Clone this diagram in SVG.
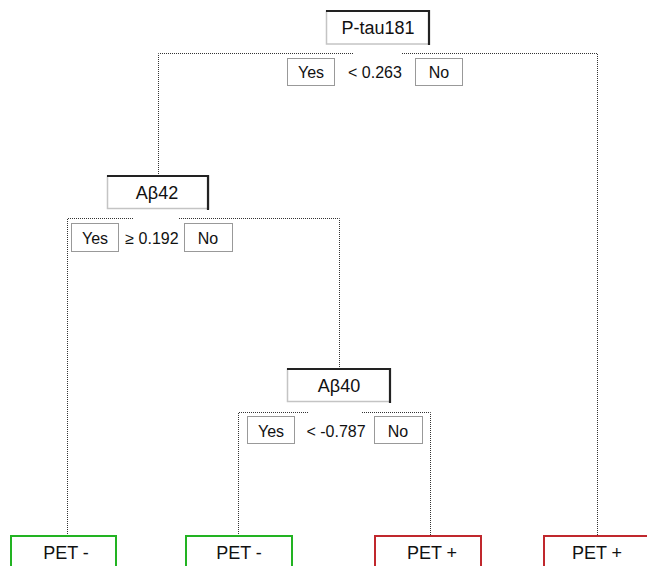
<svg xmlns="http://www.w3.org/2000/svg" width="647" height="566" viewBox="0 0 647 566">
<style>
text{font-family:"Liberation Sans",Arial,sans-serif;fill:#111;text-anchor:middle}
.nt{font-size:18px}
.lt{font-size:16px}
.nbox{fill:#fff;stroke:#c4c4c4;stroke-width:1.5}
.shade{fill:none;stroke:#222;stroke-width:2.2}
.lbl{fill:#fff;stroke:#333;stroke-width:1;stroke-dasharray:1 1}
.conn{fill:none;stroke:#333;stroke-width:1;stroke-dasharray:1 1}
.neg{fill:#fff;stroke:#22b322;stroke-width:2}
.pos{fill:#fff;stroke:#c0282d;stroke-width:2}
</style>
<rect width="647" height="566" fill="#fff"/>
<g id="connectors">
<path class="conn" d="M353,53.5 H158.5 V175"/>
<path class="conn" d="M402,53.5 H597.5 V536"/>
<path class="conn" d="M133,218.5 H67.5 V536"/>
<path class="conn" d="M179,218.5 H339.5 V368"/>
<path class="conn" d="M308,412.5 H238.5 V536"/>
<path class="conn" d="M362,412.5 H430.5 V536"/>
</g>
<g id="ptau181">
<rect class="nbox" x="326.5" y="11" width="102.5" height="33"/>
<path class="shade" d="M326,11 H429 V45"/>
<text class="nt" x="378" y="34">P-tau181</text>
</g>
<g id="ptau181-labels">
<rect class="lbl" x="287.5" y="58.5" width="47" height="27"/>
<text class="lt" x="311" y="78">Yes</text>
<text class="lt" x="375" y="78">&lt; 0.263</text>
<rect class="lbl" x="415.5" y="58.5" width="47" height="27"/>
<text class="lt" x="439" y="78">No</text>
</g>
<g id="abeta42">
<rect class="nbox" x="107.5" y="176" width="101" height="32.5"/>
<path class="shade" d="M107,176 H208 V210"/>
<text class="nt" x="157" y="199">Aβ42</text>
</g>
<g id="abeta42-labels">
<rect class="lbl" x="71.5" y="223.5" width="47" height="28"/>
<text class="lt" x="95" y="244">Yes</text>
<text class="lt" x="152" y="244">≥ 0.192</text>
<rect class="lbl" x="184.5" y="223.5" width="48" height="28"/>
<text class="lt" x="208" y="244">No</text>
</g>
<g id="abeta40">
<rect class="nbox" x="287.5" y="369" width="102.5" height="32.5"/>
<path class="shade" d="M287,369 H390 V403"/>
<text class="nt" x="339" y="392">Aβ40</text>
</g>
<g id="abeta40-labels">
<rect class="lbl" x="247.5" y="416.5" width="47" height="27"/>
<text class="lt" x="271" y="437">Yes</text>
<text class="lt" x="336" y="437">&lt; -0.787</text>
<rect class="lbl" x="374.5" y="416.5" width="48" height="27"/>
<text class="lt" x="398" y="437">No</text>
</g>
<g id="leaf1">
<rect class="neg" x="11" y="536" width="105" height="40"/>
<text class="nt" x="66" y="559">PET -</text>
</g>
<g id="leaf2">
<rect class="neg" x="186" y="536" width="106" height="40"/>
<text class="nt" x="239" y="559">PET -</text>
</g>
<g id="leaf3">
<rect class="pos" x="375" y="536" width="106" height="40"/>
<text class="nt" x="432" y="559">PET +</text>
</g>
<g id="leaf4">
<rect class="pos" x="544" y="536" width="110" height="40"/>
<text class="nt" x="597" y="559">PET +</text>
</g>
</svg>
